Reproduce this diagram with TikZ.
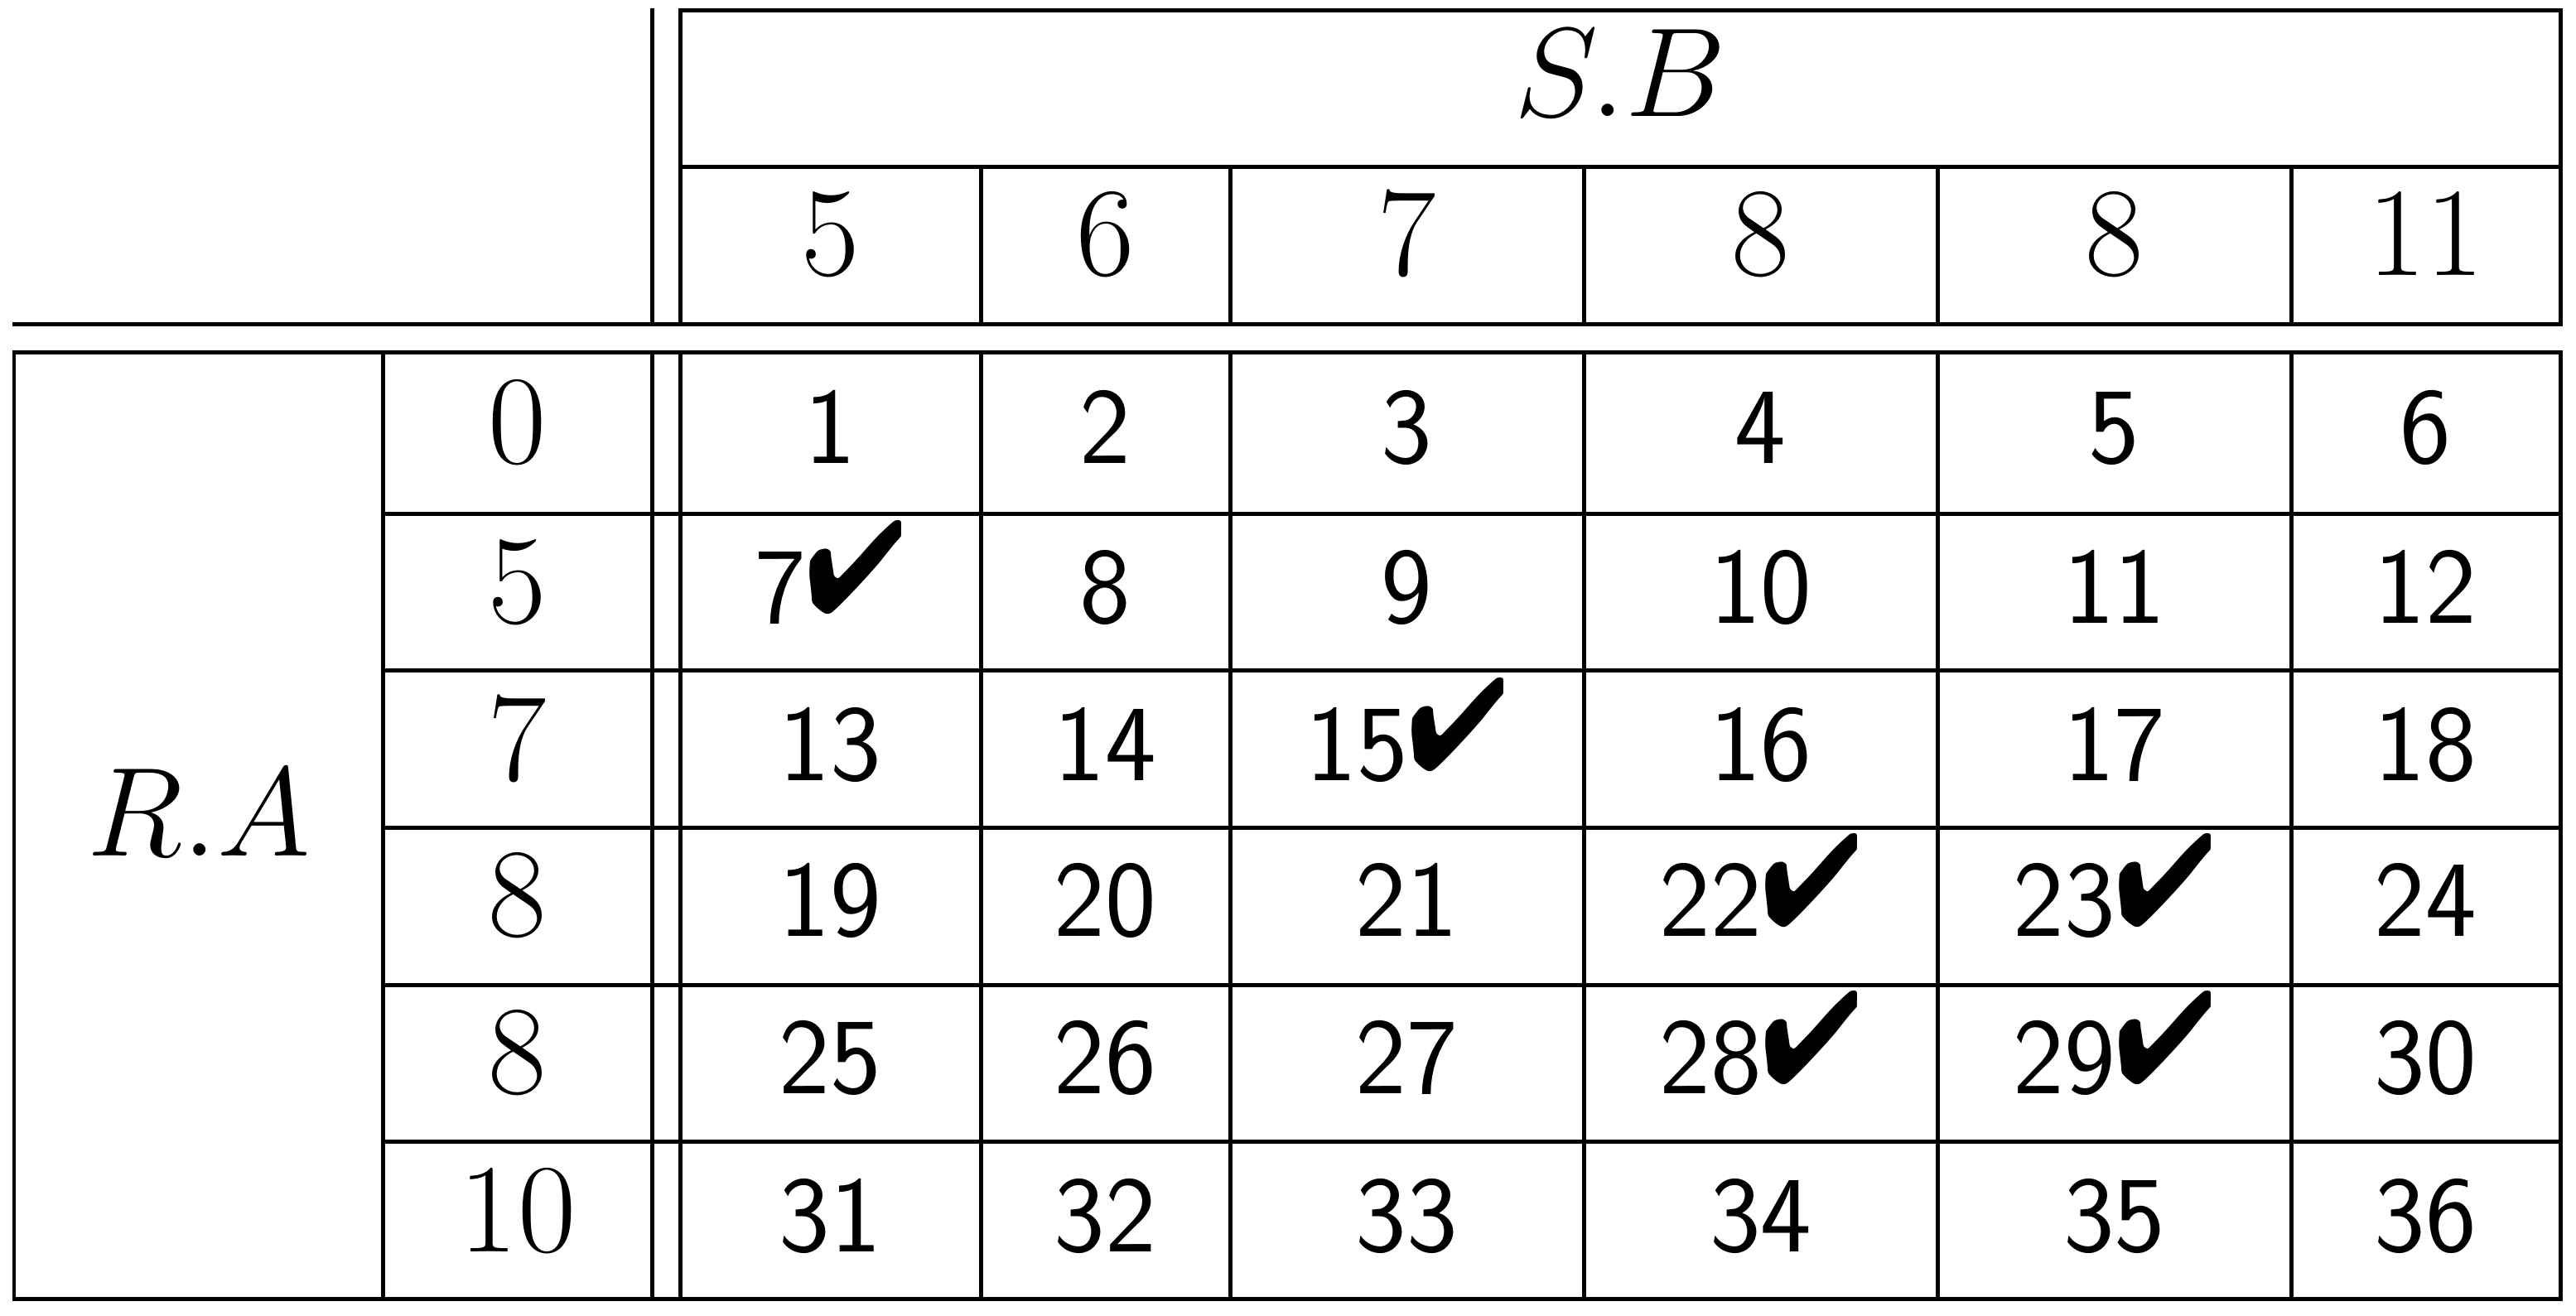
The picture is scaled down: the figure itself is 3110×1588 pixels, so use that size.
\documentclass[tikz,border=0pt]{standalone}
\usepackage{fix-cm}
\usepackage{fontspec}
\usepackage{pifont}
\usepackage{graphicx}
\newcommand{\chkmark}{\raisebox{3.7pt}{\scalebox{0.91}[1]{\fontsize{44.7}{50}\selectfont\ding{52}}}}
\tikzset{
  rule/.style={line width=1.42pt, line cap=rect},
  sertext/.style={anchor=base, inner sep=0pt, font=\fontsize{43.5}{50}\selectfont},
  sanstext/.style={anchor=base, inner sep=0pt, font=\fontsize{37.3}{45}\selectfont\sffamily},
}
\begin{document}
\begin{tikzpicture}[x=0.01cm,y=-0.01cm]
\useasboundingbox (0,0) rectangle (3110,1588);
% ---------- header part ----------
\draw[rule] (787.6,12.5) -- (787.6,391);
\draw[rule] (821,12.5) -- (821,391);
\draw[rule] (821,12.5) -- (3091,12.5) -- (3091,391);
\draw[rule] (821,201.5) -- (3091,201.5);
\foreach \x in {1184,1485,1912,2339.5,2766}
  \draw[rule] (\x,201.5) -- (\x,391);
\draw[rule] (17,391) -- (3091,391);
% ---------- body part ----------
\draw[rule] (17,425.5) rectangle (3091,1568.5);
\foreach \x in {462,787.6,821,1184,1485,1912,2339.5,2766}
  \draw[rule] (\x,425.5) -- (\x,1568.5);
\foreach \y in {620,809.5,999.5,1189.5,1378.5}
  \draw[rule] (462,\y) -- (3091,\y);
% ---------- labels ----------
\node[sertext] (sb) at (1956,141) {$S.B$};
\node[sertext] (ra) at (240,1033) {$R.A$};
\foreach \c/\x/\t in {1/1002.5/5, 2/1334.5/6, 3/1698.5/7, 4/2125.75/8, 5/2552.75/8, 6/2928.5/11}
  \node[sertext] (col\c) at (\x,332) {\t};
\foreach \r/\y/\t in {1/559/0, 2/752/5, 3/942/7, 4/1130/8, 5/1320/8, 6/1511/10}
  \node[sertext] (row\r) at (625,\y) {\t};
\foreach \r/\y in {1/559, 2/752, 3/942, 4/1130, 5/1320, 6/1511}
  \foreach \c/\x in {1/1002.5, 2/1334.5, 3/1698.5, 4/2125.75, 5/2552.75, 6/2928.5} {
    \pgfmathtruncatemacro{\n}{(\r-1)*6+\c}
    \pgfmathtruncatemacro{\ism}{or(or(or(\n==7,\n==15),or(\n==22,\n==23)),or(\n==28,\n==29))}
    \node[sanstext] (cell\r-\c) at (\x,\y) {\n\ifnum\ism=1 \chkmark\fi};
  }
\end{tikzpicture}
\end{document}
